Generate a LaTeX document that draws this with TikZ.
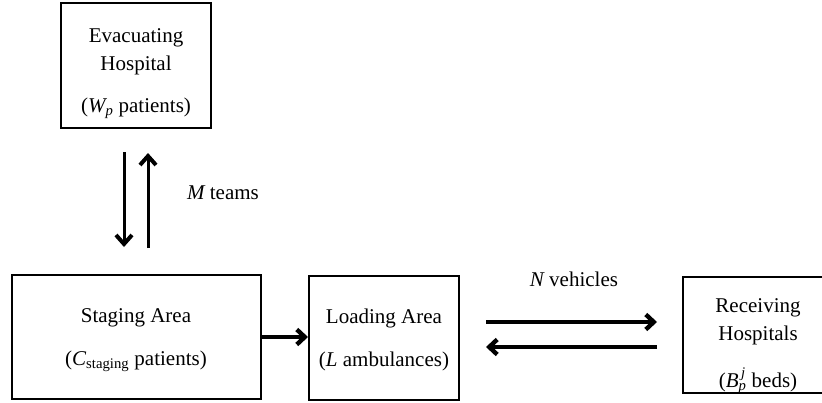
\documentclass[tikz,border=0pt]{standalone}
\usepackage{fontspec}
\usepackage{amsmath}
\setmainfont{Liberation Serif}
\usetikzlibrary{arrows.meta}

\begin{document}
\begin{tikzpicture}[x=1pt, y=-1pt,
  every node/.style={font=\fontsize{21}{28}\selectfont, inner sep=0pt},
  area/.style={draw, line width=2pt, rectangle},
  lbl/.style={align=center},
  flow/.style={line width=3pt, -{Straight Barb[length=9pt, width=16pt, line width=4pt]}},
  wide/.style={line width=3.6pt, -{Straight Barb[length=8pt, width=15pt, line width=4.4pt]}}]
  \useasboundingbox (0,0) rectangle (822,402);

  % areas
  \node[area, minimum width=150pt, minimum height=125pt] (evac) at (136,65.5) {};
  \node[area, minimum width=249.5pt, minimum height=124pt] (staging) at (136.25,337) {};
  \node[area, minimum width=150pt, minimum height=124pt] (loading) at (384,338) {};
  \node[area, minimum width=150pt, minimum height=116pt] (receiving) at (758,335) {};

  % area texts
  \node[lbl] (evactext) at (136,74) {Evacuating\\Hospital\\[14pt]($\mathit{W}_{\mathit{p}}$ patients)};
  \node[lbl] (stagingtext) at (136,340) {Staging Area\\[15pt]($\mathit{C}_{\text{staging}}$ patients)};
  \node[lbl] (loadingtext) at (384,340) {Loading Area\\[15pt]($\mathit{L}$ ambulances)};
  \node[lbl] (receivingtext) at (758,346) {Receiving\\Hospitals\\[19pt]($\mathit{B}_{\mathit{p}}^{\,\mathit{j}}$ beds)};

  % flow labels
  \node (teams) at (223,193) {$\mathit{M}$ teams};
  \node (vehicles) at (574,279) {$\mathit{N}$ vehicles};

  % teams moving between the evacuating hospital and the staging area
  \draw[flow, shorten <=23pt, shorten >=27pt]
    ([xshift=-12pt]evac.south) -- ([xshift=-12pt]evac.south |- staging.north);
  \draw[flow, shorten <=26pt, shorten >=24pt]
    ([xshift=12pt]evac.south |- staging.north) -- ([xshift=12pt]evac.south);

  % staging to loading
  \draw[wide] (staging.east) -- (loading.west |- staging.east);

  % vehicles shuttling to and from the receiving hospitals
  \draw[wide, shorten <=26pt, shorten >=25pt]
    ([yshift=16pt]loading.east) -- ([yshift=16pt]loading.east -| receiving.west);
  \draw[wide, shorten <=25pt, shorten >=26pt]
    ([yshift=-9pt]loading.east -| receiving.west) -- ([yshift=-9pt]loading.east);
\end{tikzpicture}
\end{document}
